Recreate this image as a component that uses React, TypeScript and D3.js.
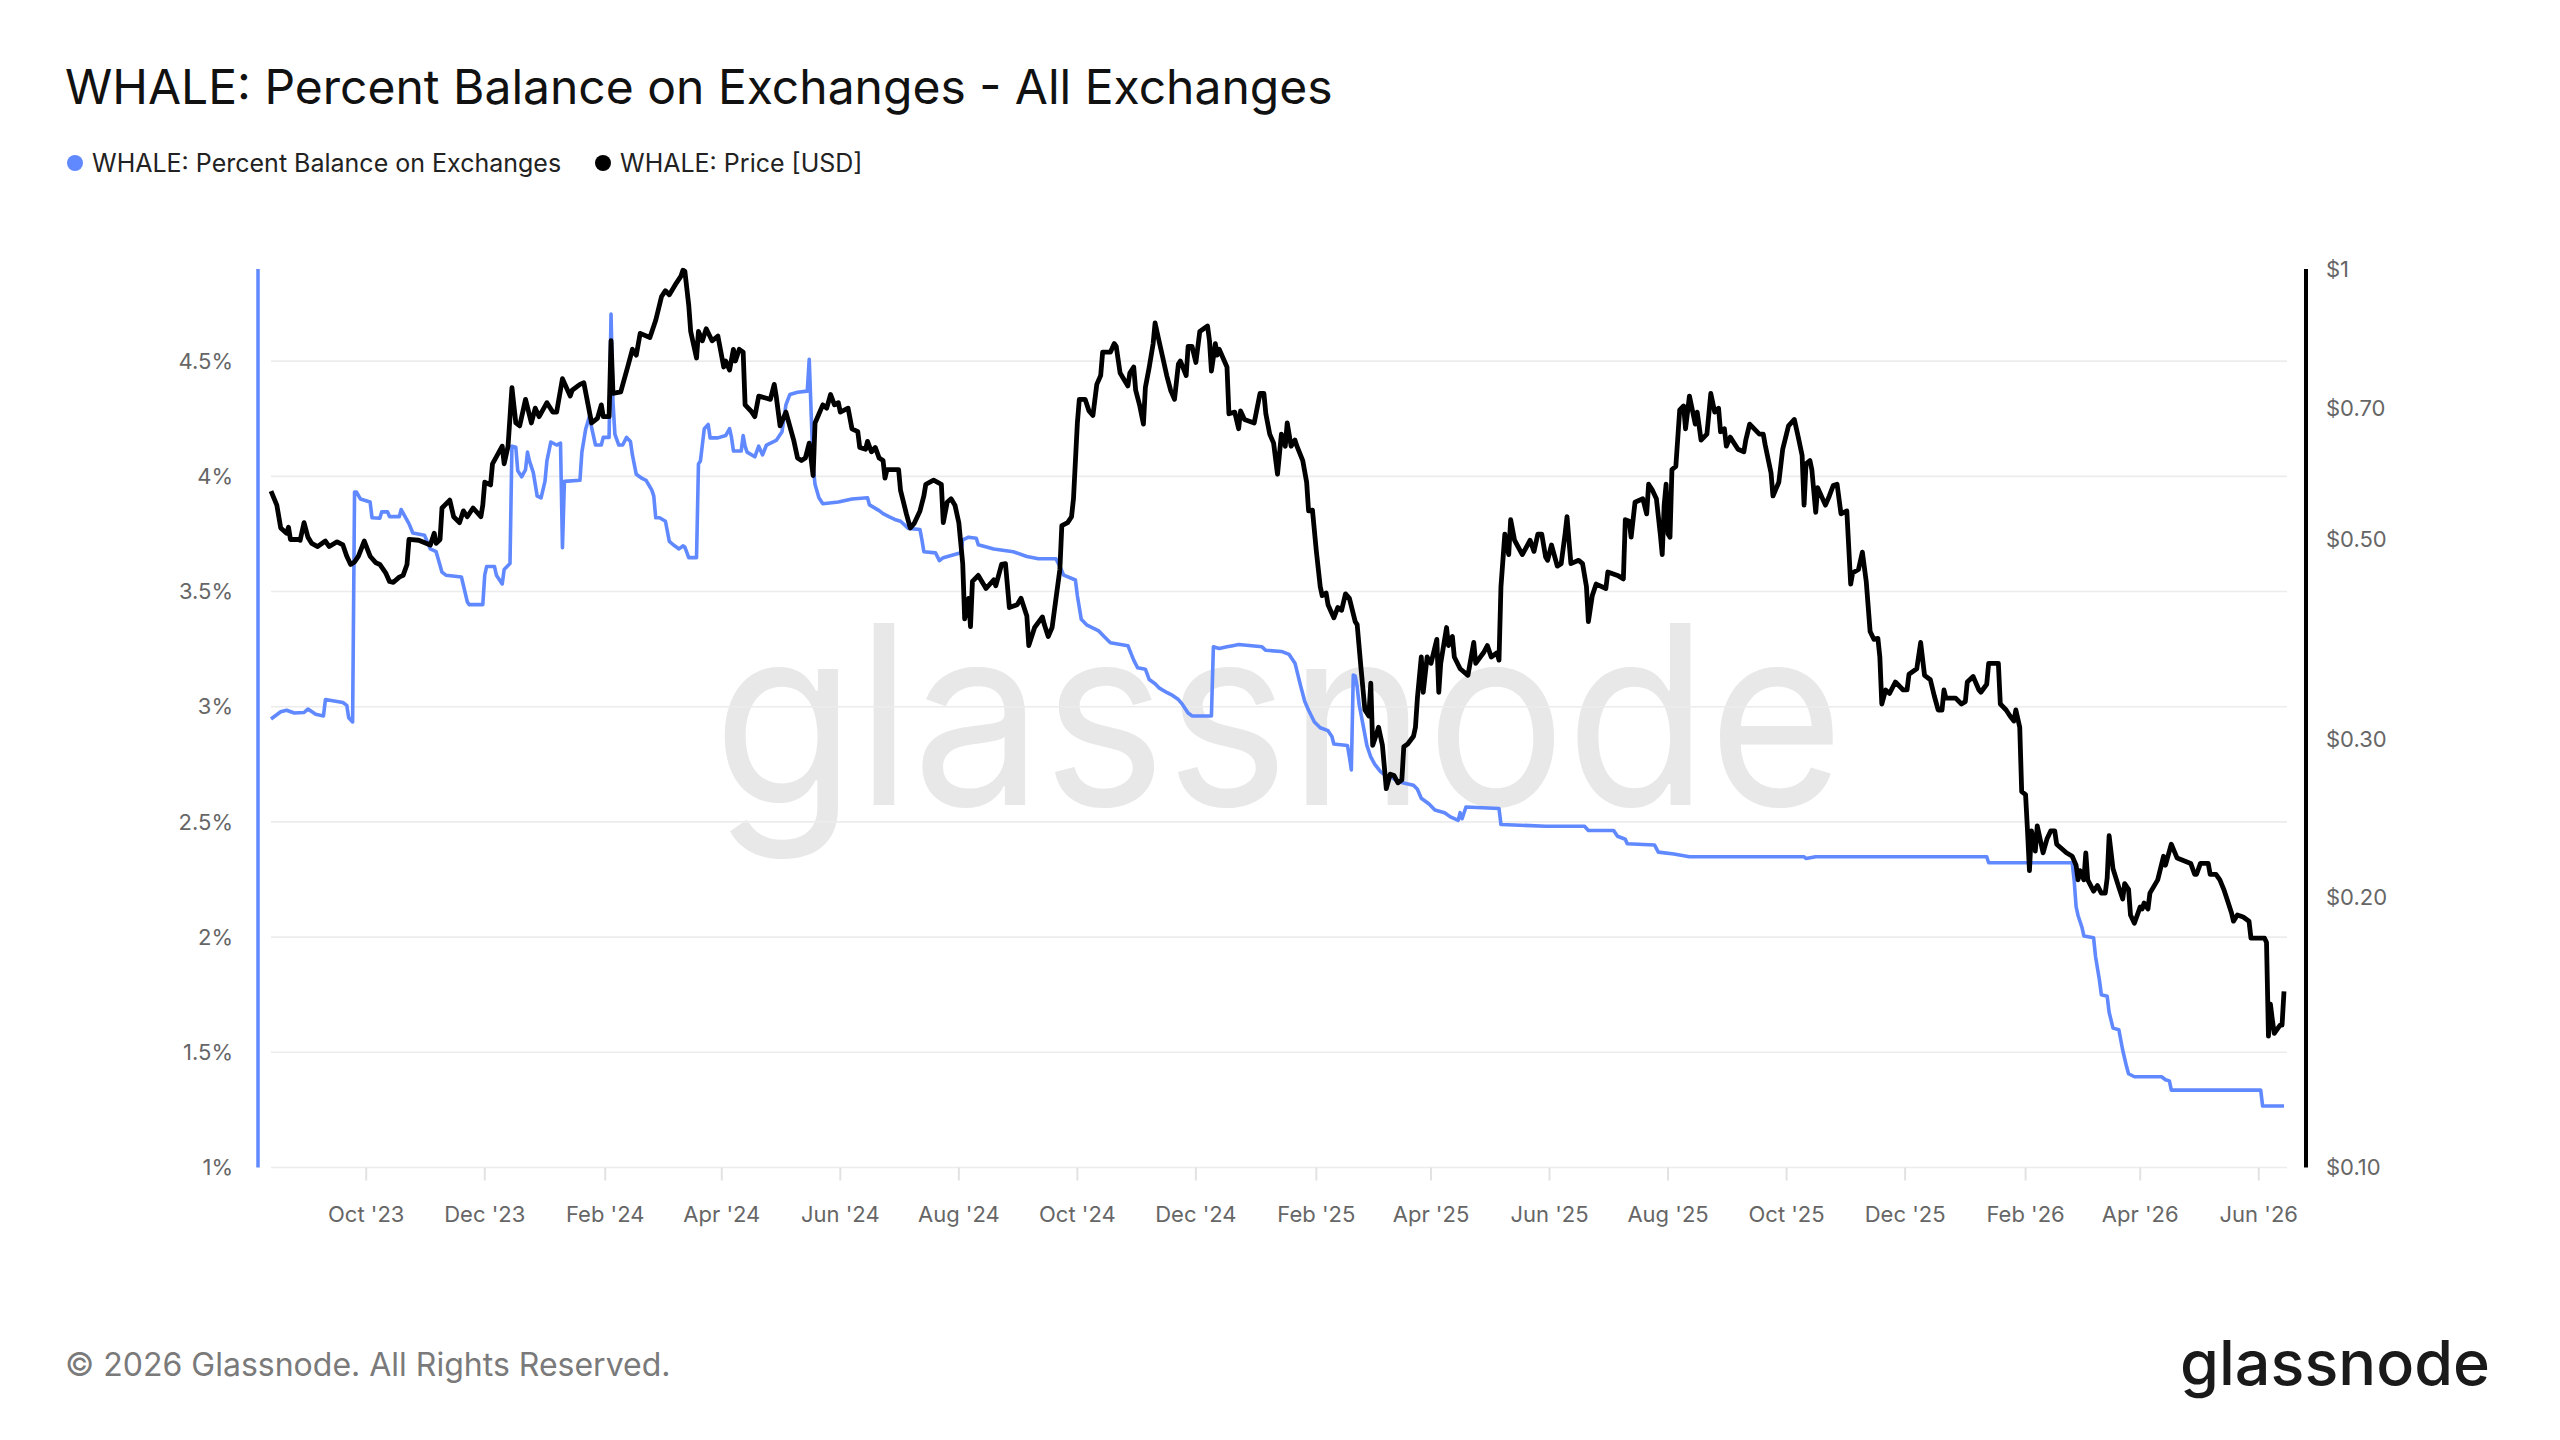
import React from 'react';
import * as d3 from 'd3';

// WHALE percent balance on exchanges (%)
const balanceSeries: [string, number][] = [
    ['2023-08-13', 2.947], ['2023-08-18', 2.978], ['2023-08-21', 2.985], ['2023-08-25', 2.973],
    ['2023-08-30', 2.975], ['2023-09-01', 2.990], ['2023-09-05', 2.967], ['2023-09-09', 2.960],
    ['2023-09-10', 3.031], ['2023-09-19', 3.018], ['2023-09-21', 3.006], ['2023-09-22', 2.952],
    ['2023-09-24', 2.934], ['2023-09-25', 3.932], ['2023-09-26', 3.932], ['2023-09-28', 3.902],
    ['2023-10-03', 3.889], ['2023-10-04', 3.820], ['2023-10-08', 3.818], ['2023-10-09', 3.846],
    ['2023-10-12', 3.846], ['2023-10-13', 3.825], ['2023-10-18', 3.825], ['2023-10-19', 3.856],
    ['2023-10-23', 3.795], ['2023-10-25', 3.754], ['2023-10-31', 3.744], ['2023-11-03', 3.685],
    ['2023-11-06', 3.673], ['2023-11-09', 3.584], ['2023-11-11', 3.571], ['2023-11-19', 3.563],
    ['2023-11-22', 3.456], ['2023-11-23', 3.443], ['2023-11-30', 3.443], ['2023-12-01', 3.571],
    ['2023-12-02', 3.609], ['2023-12-06', 3.609], ['2023-12-07', 3.571], ['2023-12-10', 3.533],
    ['2023-12-11', 3.596], ['2023-12-14', 3.622], ['2023-12-15', 4.131], ['2023-12-17', 4.126],
    ['2023-12-18', 4.024], ['2023-12-20', 3.998], ['2023-12-22', 4.029], ['2023-12-23', 4.105],
    ['2023-12-24', 4.067], ['2023-12-26', 4.016], ['2023-12-28', 3.914], ['2023-12-30', 3.907],
    ['2024-01-01', 3.978], ['2024-01-02', 4.067], ['2024-01-04', 4.149], ['2024-01-07', 4.136],
    ['2024-01-09', 4.144], ['2024-01-10', 3.690], ['2024-01-11', 3.978], ['2024-01-19', 3.983],
    ['2024-01-20', 4.105], ['2024-01-22', 4.207], ['2024-01-24', 4.263], ['2024-01-25', 4.212],
    ['2024-01-27', 4.136], ['2024-01-30', 4.136], ['2024-01-31', 4.169], ['2024-02-03', 4.169],
    ['2024-02-04', 4.704], ['2024-02-05', 4.322], ['2024-02-06', 4.182], ['2024-02-08', 4.136],
    ['2024-02-10', 4.136], ['2024-02-12', 4.169], ['2024-02-14', 4.151], ['2024-02-15', 4.093],
    ['2024-02-17', 4.009], ['2024-02-20', 3.991], ['2024-02-22', 3.983], ['2024-02-25', 3.940],
    ['2024-02-26', 3.914], ['2024-02-27', 3.820], ['2024-02-29', 3.820], ['2024-03-03', 3.805],
    ['2024-03-05', 3.718], ['2024-03-07', 3.703], ['2024-03-10', 3.685], ['2024-03-12', 3.698],
    ['2024-03-13', 3.693], ['2024-03-15', 3.647], ['2024-03-19', 3.647], ['2024-03-20', 4.054],
    ['2024-03-21', 4.067], ['2024-03-23', 4.207], ['2024-03-25', 4.225], ['2024-03-26', 4.167],
    ['2024-03-30', 4.167], ['2024-04-03', 4.177], ['2024-04-05', 4.207], ['2024-04-06', 4.169],
    ['2024-04-07', 4.110], ['2024-04-11', 4.110], ['2024-04-12', 4.177], ['2024-04-13', 4.131],
    ['2024-04-14', 4.105], ['2024-04-18', 4.085], ['2024-04-20', 4.131], ['2024-04-22', 4.093],
    ['2024-04-24', 4.136], ['2024-04-29', 4.156], ['2024-05-02', 4.194], ['2024-05-04', 4.310],
    ['2024-05-06', 4.355], ['2024-05-10', 4.365], ['2024-05-15', 4.370], ['2024-05-16', 4.508],
    ['2024-05-18', 4.042], ['2024-05-19', 3.965], ['2024-05-21', 3.907], ['2024-05-23', 3.881],
    ['2024-05-31', 3.889], ['2024-06-07', 3.902], ['2024-06-15', 3.907], ['2024-06-16', 3.876],
    ['2024-06-21', 3.851], ['2024-06-23', 3.838], ['2024-06-26', 3.825], ['2024-06-29', 3.813],
    ['2024-07-02', 3.805], ['2024-07-06', 3.774], ['2024-07-12', 3.769], ['2024-07-13', 3.724],
    ['2024-07-14', 3.673], ['2024-07-20', 3.668], ['2024-07-22', 3.634], ['2024-07-24', 3.647],
    ['2024-08-02', 3.668], ['2024-08-03', 3.724], ['2024-08-06', 3.736], ['2024-08-10', 3.731],
    ['2024-08-11', 3.703], ['2024-08-19', 3.685], ['2024-08-29', 3.673], ['2024-09-05', 3.652],
    ['2024-09-11', 3.642], ['2024-09-20', 3.642], ['2024-09-22', 3.609], ['2024-09-24', 3.571],
    ['2024-09-30', 3.550], ['2024-10-01', 3.482], ['2024-10-03', 3.380], ['2024-10-06', 3.354],
    ['2024-10-12', 3.329], ['2024-10-15', 3.303], ['2024-10-18', 3.278], ['2024-10-27', 3.265],
    ['2024-10-30', 3.202], ['2024-11-01', 3.169], ['2024-11-05', 3.163], ['2024-11-07', 3.118],
    ['2024-11-10', 3.100], ['2024-11-12', 3.082], ['2024-11-16', 3.062], ['2024-11-19', 3.049],
    ['2024-11-22', 3.031], ['2024-11-24', 3.011], ['2024-11-27', 2.973], ['2024-11-29', 2.960],
    ['2024-12-09', 2.960], ['2024-12-10', 3.260], ['2024-12-13', 3.253], ['2024-12-17', 3.260],
    ['2024-12-20', 3.265], ['2024-12-23', 3.270], ['2025-01-04', 3.260], ['2025-01-06', 3.245],
    ['2025-01-14', 3.240], ['2025-01-18', 3.227], ['2025-01-21', 3.189], ['2025-01-24', 3.087],
    ['2025-01-26', 3.024], ['2025-01-28', 2.985], ['2025-01-31', 2.934], ['2025-02-03', 2.909],
    ['2025-02-07', 2.896], ['2025-02-09', 2.871], ['2025-02-10', 2.838], ['2025-02-17', 2.832],
    ['2025-02-18', 2.782], ['2025-02-19', 2.726], ['2025-02-20', 3.138], ['2025-02-21', 3.133],
    ['2025-02-22', 3.087], ['2025-02-23', 3.011], ['2025-02-25', 2.922], ['2025-02-27', 2.832],
    ['2025-03-01', 2.782], ['2025-03-03', 2.751], ['2025-03-06', 2.718], ['2025-03-08', 2.705],
    ['2025-03-12', 2.692], ['2025-03-15', 2.675], ['2025-03-19', 2.667], ['2025-03-23', 2.659],
    ['2025-03-25', 2.642], ['2025-03-27', 2.603], ['2025-03-31', 2.578], ['2025-04-03', 2.552],
    ['2025-04-08', 2.540], ['2025-04-11', 2.522], ['2025-04-15', 2.507], ['2025-04-16', 2.540],
    ['2025-04-17', 2.514], ['2025-04-19', 2.565], ['2025-05-06', 2.558], ['2025-05-07', 2.489],
    ['2025-05-30', 2.481], ['2025-06-19', 2.481], ['2025-06-21', 2.463], ['2025-07-04', 2.463],
    ['2025-07-06', 2.438], ['2025-07-10', 2.425], ['2025-07-11', 2.405], ['2025-07-25', 2.400],
    ['2025-07-27', 2.369], ['2025-08-04', 2.361], ['2025-08-12', 2.349], ['2025-10-10', 2.349],
    ['2025-10-11', 2.341], ['2025-10-16', 2.349], ['2026-01-12', 2.349], ['2026-01-13', 2.323],
    ['2026-02-25', 2.323], ['2026-02-26', 2.247], ['2026-02-27', 2.132], ['2026-02-28', 2.094],
    ['2026-03-02', 2.043], ['2026-03-03', 2.005], ['2026-03-08', 1.997], ['2026-03-09', 1.916],
    ['2026-03-11', 1.814], ['2026-03-12', 1.750], ['2026-03-15', 1.743], ['2026-03-16', 1.674],
    ['2026-03-18', 1.605], ['2026-03-21', 1.598], ['2026-03-23', 1.509], ['2026-03-25', 1.437],
    ['2026-03-26', 1.407], ['2026-03-29', 1.394], ['2026-04-12', 1.394], ['2026-04-14', 1.381],
    ['2026-04-16', 1.376], ['2026-04-17', 1.336], ['2026-06-02', 1.336], ['2026-06-03', 1.267],
    ['2026-06-14', 1.267],
];

// WHALE price in USD
const priceSeries: [string, number][] = [
    ['2023-08-13', 0.566], ['2023-08-16', 0.546], ['2023-08-18', 0.515], ['2023-08-21', 0.508],
    ['2023-08-22', 0.516], ['2023-08-23', 0.500], ['2023-08-27', 0.500], ['2023-08-28', 0.499],
    ['2023-08-30', 0.522], ['2023-09-01', 0.503], ['2023-09-03', 0.495], ['2023-09-06', 0.491],
    ['2023-09-10', 0.498], ['2023-09-12', 0.491], ['2023-09-16', 0.497], ['2023-09-19', 0.493],
    ['2023-09-21', 0.479], ['2023-09-23', 0.469], ['2023-09-25', 0.472], ['2023-09-27', 0.479],
    ['2023-09-30', 0.498], ['2023-10-03', 0.479], ['2023-10-06', 0.471], ['2023-10-08', 0.469],
    ['2023-10-11', 0.459], ['2023-10-13', 0.449], ['2023-10-15', 0.448], ['2023-10-18', 0.454],
    ['2023-10-20', 0.456], ['2023-10-22', 0.469], ['2023-10-23', 0.500], ['2023-10-28', 0.499],
    ['2023-11-03', 0.493], ['2023-11-05', 0.508], ['2023-11-06', 0.495], ['2023-11-08', 0.500],
    ['2023-11-09', 0.542], ['2023-11-13', 0.553], ['2023-11-15', 0.530], ['2023-11-18', 0.522],
    ['2023-11-20', 0.538], ['2023-11-22', 0.530], ['2023-11-25', 0.542], ['2023-11-29', 0.530],
    ['2023-11-30', 0.546], ['2023-12-01', 0.579], ['2023-12-04', 0.575], ['2023-12-05', 0.607],
    ['2023-12-10', 0.635], ['2023-12-11', 0.607], ['2023-12-13', 0.635], ['2023-12-15', 0.738],
    ['2023-12-17', 0.674], ['2023-12-19', 0.669], ['2023-12-22', 0.716], ['2023-12-25', 0.674],
    ['2023-12-27', 0.700], ['2023-12-29', 0.685], ['2024-01-02', 0.710], ['2024-01-05', 0.693],
    ['2024-01-07', 0.693], ['2024-01-10', 0.755], ['2024-01-14', 0.722], ['2024-01-15', 0.733],
    ['2024-01-19', 0.744], ['2024-01-21', 0.747], ['2024-01-25', 0.674], ['2024-01-28', 0.682],
    ['2024-01-30', 0.706], ['2024-01-31', 0.685], ['2024-02-03', 0.685], ['2024-02-04', 0.832],
    ['2024-02-05', 0.727], ['2024-02-09', 0.730], ['2024-02-13', 0.784], ['2024-02-15', 0.814],
    ['2024-02-17', 0.802], ['2024-02-19', 0.848], ['2024-02-24', 0.839], ['2024-02-27', 0.877],
    ['2024-03-01', 0.932], ['2024-03-03', 0.946], ['2024-03-05', 0.936], ['2024-03-08', 0.960],
    ['2024-03-11', 0.982], ['2024-03-12', 0.997], ['2024-03-13', 0.994], ['2024-03-15', 0.911],
    ['2024-03-16', 0.852], ['2024-03-19', 0.796], ['2024-03-20', 0.852], ['2024-03-22', 0.832],
    ['2024-03-24', 0.858], ['2024-03-27', 0.832], ['2024-03-30', 0.842], ['2024-04-02', 0.778],
    ['2024-04-03', 0.790], ['2024-04-05', 0.772], ['2024-04-07', 0.814], ['2024-04-08', 0.790],
    ['2024-04-10', 0.814], ['2024-04-12', 0.808], ['2024-04-13', 0.706], ['2024-04-16', 0.695],
    ['2024-04-18', 0.685], ['2024-04-20', 0.722], ['2024-04-24', 0.718], ['2024-04-26', 0.716],
    ['2024-04-28', 0.744], ['2024-04-29', 0.722], ['2024-05-01', 0.669], ['2024-05-04', 0.693],
    ['2024-05-08', 0.645], ['2024-05-10', 0.616], ['2024-05-12', 0.612], ['2024-05-14', 0.616],
    ['2024-05-16', 0.640], ['2024-05-18', 0.589], ['2024-05-19', 0.674], ['2024-05-23', 0.706],
    ['2024-05-25', 0.700], ['2024-05-27', 0.725], ['2024-05-29', 0.706], ['2024-05-31', 0.710],
    ['2024-06-01', 0.693], ['2024-06-05', 0.700], ['2024-06-07', 0.664], ['2024-06-10', 0.659],
    ['2024-06-11', 0.633], ['2024-06-14', 0.630], ['2024-06-15', 0.643], ['2024-06-17', 0.626],
    ['2024-06-19', 0.633], ['2024-06-21', 0.616], ['2024-06-23', 0.612], ['2024-06-24', 0.585],
    ['2024-06-25', 0.598], ['2024-07-01', 0.598], ['2024-07-02', 0.567], ['2024-07-05', 0.534],
    ['2024-07-07', 0.515], ['2024-07-09', 0.521], ['2024-07-12', 0.538], ['2024-07-14', 0.559],
    ['2024-07-15', 0.576], ['2024-07-19', 0.582], ['2024-07-23', 0.576], ['2024-07-24', 0.522],
    ['2024-07-26', 0.550], ['2024-07-28', 0.555], ['2024-07-30', 0.546], ['2024-08-01', 0.522],
    ['2024-08-03', 0.470], ['2024-08-04', 0.408], ['2024-08-06', 0.430], ['2024-08-07', 0.400],
    ['2024-08-08', 0.449], ['2024-08-11', 0.456], ['2024-08-15', 0.441], ['2024-08-19', 0.451],
    ['2024-08-20', 0.444], ['2024-08-23', 0.469], ['2024-08-25', 0.470], ['2024-08-27', 0.420],
    ['2024-08-31', 0.423], ['2024-09-02', 0.430], ['2024-09-05', 0.411], ['2024-09-06', 0.381],
    ['2024-09-09', 0.399], ['2024-09-13', 0.410], ['2024-09-14', 0.402], ['2024-09-16', 0.390],
    ['2024-09-18', 0.399], ['2024-09-20', 0.430], ['2024-09-22', 0.463], ['2024-09-23', 0.518],
    ['2024-09-26', 0.522], ['2024-09-28', 0.530], ['2024-09-29', 0.555], ['2024-10-01', 0.674],
    ['2024-10-02', 0.716], ['2024-10-05', 0.716], ['2024-10-07', 0.695], ['2024-10-09', 0.687],
    ['2024-10-11', 0.744], ['2024-10-13', 0.761], ['2024-10-14', 0.808], ['2024-10-18', 0.808],
    ['2024-10-20', 0.826], ['2024-10-21', 0.820], ['2024-10-23', 0.766], ['2024-10-27', 0.741],
    ['2024-10-28', 0.766], ['2024-10-30', 0.778], ['2024-10-31', 0.733], ['2024-11-02', 0.706],
    ['2024-11-04', 0.672], ['2024-11-05', 0.738], ['2024-11-07', 0.778], ['2024-11-09', 0.826],
    ['2024-11-10', 0.871], ['2024-11-12', 0.832], ['2024-11-14', 0.796], ['2024-11-16', 0.761],
    ['2024-11-18', 0.733], ['2024-11-20', 0.716], ['2024-11-22', 0.784], ['2024-11-23', 0.790],
    ['2024-11-26', 0.761], ['2024-11-27', 0.820], ['2024-11-29', 0.820], ['2024-12-01', 0.787],
    ['2024-12-03', 0.852], ['2024-12-07', 0.864], ['2024-12-08', 0.832], ['2024-12-09', 0.770],
    ['2024-12-11', 0.826], ['2024-12-12', 0.802], ['2024-12-13', 0.814], ['2024-12-17', 0.778],
    ['2024-12-18', 0.690], ['2024-12-21', 0.693], ['2024-12-23', 0.664], ['2024-12-24', 0.695],
    ['2024-12-26', 0.680], ['2024-12-31', 0.674], ['2025-01-03', 0.727], ['2025-01-05', 0.727],
    ['2025-01-06', 0.690], ['2025-01-08', 0.655], ['2025-01-10', 0.640], ['2025-01-12', 0.591],
    ['2025-01-14', 0.655], ['2025-01-16', 0.635], ['2025-01-17', 0.674], ['2025-01-19', 0.635],
    ['2025-01-21', 0.645], ['2025-01-22', 0.635], ['2025-01-25', 0.612], ['2025-01-27', 0.579],
    ['2025-01-28', 0.538], ['2025-01-30', 0.539], ['2025-02-01', 0.485], ['2025-02-03', 0.443],
    ['2025-02-04', 0.433], ['2025-02-06', 0.436], ['2025-02-07', 0.423], ['2025-02-10', 0.409],
    ['2025-02-12', 0.420], ['2025-02-14', 0.417], ['2025-02-16', 0.435], ['2025-02-18', 0.430],
    ['2025-02-21', 0.405], ['2025-02-22', 0.402], ['2025-02-24', 0.359], ['2025-02-26', 0.323],
    ['2025-02-28', 0.318], ['2025-03-01', 0.346], ['2025-03-02', 0.295], ['2025-03-04', 0.304],
    ['2025-03-05', 0.309], ['2025-03-07', 0.295], ['2025-03-09', 0.264], ['2025-03-11', 0.274],
    ['2025-03-13', 0.273], ['2025-03-15', 0.268], ['2025-03-17', 0.270], ['2025-03-18', 0.294],
    ['2025-03-20', 0.296], ['2025-03-23', 0.302], ['2025-03-24', 0.309], ['2025-03-25', 0.333],
    ['2025-03-27', 0.370], ['2025-03-28', 0.338], ['2025-03-30', 0.370], ['2025-04-01', 0.364],
    ['2025-04-04', 0.387], ['2025-04-05', 0.338], ['2025-04-06', 0.364], ['2025-04-09', 0.399],
    ['2025-04-10', 0.381], ['2025-04-12', 0.390], ['2025-04-13', 0.370], ['2025-04-16', 0.359],
    ['2025-04-20', 0.353], ['2025-04-23', 0.384], ['2025-04-24', 0.364], ['2025-04-28', 0.374],
    ['2025-04-30', 0.381], ['2025-05-02', 0.370], ['2025-05-05', 0.374], ['2025-05-06', 0.367],
    ['2025-05-07', 0.443], ['2025-05-09', 0.507], ['2025-05-11', 0.481], ['2025-05-12', 0.526],
    ['2025-05-14', 0.499], ['2025-05-18', 0.481], ['2025-05-22', 0.499], ['2025-05-24', 0.485],
    ['2025-05-26', 0.507], ['2025-05-28', 0.507], ['2025-05-30', 0.478], ['2025-05-31', 0.474],
    ['2025-06-02', 0.493], ['2025-06-05', 0.467], ['2025-06-07', 0.470], ['2025-06-09', 0.507],
    ['2025-06-10', 0.530], ['2025-06-12', 0.470], ['2025-06-16', 0.474], ['2025-06-18', 0.470],
    ['2025-06-20', 0.443], ['2025-06-21', 0.405], ['2025-06-23', 0.433], ['2025-06-25', 0.446],
    ['2025-06-30', 0.441], ['2025-07-01', 0.460], ['2025-07-06', 0.456], ['2025-07-09', 0.452],
    ['2025-07-10', 0.526], ['2025-07-12', 0.524], ['2025-07-13', 0.503], ['2025-07-15', 0.550],
    ['2025-07-19', 0.555], ['2025-07-21', 0.534], ['2025-07-22', 0.576], ['2025-07-24', 0.567],
    ['2025-07-26', 0.555], ['2025-07-28', 0.507], ['2025-07-29', 0.481], ['2025-07-30', 0.546],
    ['2025-07-31', 0.576], ['2025-08-01', 0.507], ['2025-08-02', 0.503], ['2025-08-03', 0.598],
    ['2025-08-05', 0.603], ['2025-08-07', 0.697], ['2025-08-09', 0.704], ['2025-08-10', 0.664],
    ['2025-08-12', 0.722], ['2025-08-15', 0.672], ['2025-08-16', 0.693], ['2025-08-18', 0.645],
    ['2025-08-21', 0.655], ['2025-08-23', 0.727], ['2025-08-25', 0.693], ['2025-08-27', 0.700],
    ['2025-08-28', 0.659], ['2025-08-30', 0.664], ['2025-08-31', 0.635], ['2025-09-02', 0.650],
    ['2025-09-06', 0.630], ['2025-09-09', 0.626], ['2025-09-10', 0.645], ['2025-09-12', 0.672],
    ['2025-09-17', 0.655], ['2025-09-19', 0.655], ['2025-09-20', 0.637], ['2025-09-23', 0.593],
    ['2025-09-24', 0.559], ['2025-09-27', 0.579], ['2025-09-29', 0.630], ['2025-10-02', 0.669],
    ['2025-10-05', 0.680], ['2025-10-07', 0.650], ['2025-10-09', 0.620], ['2025-10-10', 0.546],
    ['2025-10-11', 0.607], ['2025-10-13', 0.612], ['2025-10-14', 0.598], ['2025-10-16', 0.536],
    ['2025-10-17', 0.571], ['2025-10-21', 0.546], ['2025-10-23', 0.559], ['2025-10-25', 0.574],
    ['2025-10-27', 0.576], ['2025-10-29', 0.534], ['2025-11-01', 0.538], ['2025-11-03', 0.446],
    ['2025-11-04', 0.459], ['2025-11-07', 0.463], ['2025-11-09', 0.484], ['2025-11-11', 0.449],
    ['2025-11-13', 0.395], ['2025-11-15', 0.387], ['2025-11-17', 0.388], ['2025-11-18', 0.370],
    ['2025-11-19', 0.328], ['2025-11-21', 0.340], ['2025-11-23', 0.337], ['2025-11-26', 0.347],
    ['2025-11-30', 0.340], ['2025-12-02', 0.340], ['2025-12-03', 0.354], ['2025-12-07', 0.359],
    ['2025-12-09', 0.384], ['2025-12-11', 0.353], ['2025-12-14', 0.349], ['2025-12-16', 0.335],
    ['2025-12-18', 0.323], ['2025-12-20', 0.323], ['2025-12-21', 0.340], ['2025-12-22', 0.333],
    ['2025-12-27', 0.333], ['2025-12-30', 0.328], ['2026-01-01', 0.330], ['2026-01-02', 0.347],
    ['2026-01-05', 0.352], ['2026-01-08', 0.340], ['2026-01-09', 0.338], ['2026-01-12', 0.345],
    ['2026-01-13', 0.364], ['2026-01-18', 0.364], ['2026-01-19', 0.328], ['2026-01-22', 0.323],
    ['2026-01-24', 0.318], ['2026-01-26', 0.314], ['2026-01-27', 0.323], ['2026-01-29', 0.309],
    ['2026-01-30', 0.262], ['2026-02-01', 0.260], ['2026-02-02', 0.237], ['2026-02-03', 0.214],
    ['2026-02-04', 0.237], ['2026-02-06', 0.225], ['2026-02-07', 0.240], ['2026-02-10', 0.224],
    ['2026-02-12', 0.232], ['2026-02-14', 0.237], ['2026-02-16', 0.237], ['2026-02-17', 0.229],
    ['2026-02-22', 0.224], ['2026-02-25', 0.222], ['2026-02-27', 0.217], ['2026-02-28', 0.209],
    ['2026-03-01', 0.214], ['2026-03-03', 0.209], ['2026-03-04', 0.224], ['2026-03-05', 0.209],
    ['2026-03-08', 0.203], ['2026-03-10', 0.206], ['2026-03-12', 0.202], ['2026-03-14', 0.202],
    ['2026-03-15', 0.210], ['2026-03-16', 0.234], ['2026-03-18', 0.215], ['2026-03-21', 0.205],
    ['2026-03-23', 0.199], ['2026-03-24', 0.207], ['2026-03-26', 0.204], ['2026-03-27', 0.191],
    ['2026-03-29', 0.187], ['2026-04-01', 0.195], ['2026-04-02', 0.194], ['2026-04-03', 0.197],
    ['2026-04-05', 0.194], ['2026-04-06', 0.202], ['2026-04-10', 0.209], ['2026-04-13', 0.222],
    ['2026-04-14', 0.217], ['2026-04-17', 0.229], ['2026-04-20', 0.221], ['2026-04-27', 0.218],
    ['2026-04-29', 0.212], ['2026-04-30', 0.212], ['2026-05-02', 0.218], ['2026-05-06', 0.218],
    ['2026-05-07', 0.212], ['2026-05-10', 0.212], ['2026-05-12', 0.209], ['2026-05-14', 0.204],
    ['2026-05-16', 0.198], ['2026-05-18', 0.192], ['2026-05-19', 0.188], ['2026-05-21', 0.191],
    ['2026-05-24', 0.190], ['2026-05-27', 0.188], ['2026-05-28', 0.180], ['2026-06-04', 0.180],
    ['2026-06-05', 0.178], ['2026-06-06', 0.140], ['2026-06-07', 0.152], ['2026-06-08', 0.146],
    ['2026-06-09', 0.141], ['2026-06-12', 0.144], ['2026-06-13', 0.144], ['2026-06-14', 0.157],
];

const percentTicks = [1, 1.5, 2, 2.5, 3, 3.5, 4, 4.5];
const priceTicks = [0.1, 0.2, 0.3, 0.5, 0.7, 1];
const monthTicks = [
    '2023-10-01', '2023-12-01', '2024-02-01', '2024-04-01', '2024-06-01', '2024-08-01',
    '2024-10-01', '2024-12-01', '2025-02-01', '2025-04-01', '2025-06-01', '2025-08-01',
    '2025-10-01', '2025-12-01', '2026-02-01', '2026-04-01', '2026-06-01',
];

const WIDTH = 2560;
const HEIGHT = 1440;
const BLUE = '#6088ff';
const FONT = "Inter, 'Noto Sans', 'DejaVu Sans', sans-serif";

const App: React.FC = () => {
    const parse = d3.utcParse('%Y-%m-%d');
    const balance = balanceSeries.map(([d, v]) => ({date: parse(d)!, value: v}));
    const price = priceSeries.map(([d, v]) => ({date: parse(d)!, value: v}));

    // plot box
    const left = 271, right = 2284, top = 269, bottom = 1167.5;

    const x = d3.scaleUtc()
        .domain(d3.extent([...balance, ...price], d => d.date) as [Date, Date])
        .range([left, right]);
    const yLeft = d3.scaleLinear().domain([1, 4.9]).range([bottom, top]);
    const yRight = d3.scaleLog().domain([0.1, 1]).range([bottom, top]);

    const balanceLine = d3.line<{date: Date, value: number}>()
        .x(d => x(d.date))
        .y(d => yLeft(d.value));
    const priceLine = d3.line<{date: Date, value: number}>()
        .x(d => x(d.date))
        .y(d => yRight(d.value));

    const fmtMonth = d3.utcFormat("%b '%y");
    const fmtPrice = (v: number) => (v === 1 ? '$1' : d3.format('$.2f')(v));

    return (
        <div style={{position: 'absolute', left: 0, top: 0}}>
            <svg width={WIDTH} height={HEIGHT} style={{display: 'block', background: '#fff'}} fontFamily={FONT}>
                {/* title + legend */}
                <text x={65} y={104} fontSize={48} fill="#111">
                    WHALE: Percent Balance on Exchanges - All Exchanges
                </text>
                <circle cx={75} cy={163} r={8} fill={BLUE}/>
                <text x={92} y={172} fontSize={25} fill="#222">WHALE: Percent Balance on Exchanges</text>
                <circle cx={603} cy={163} r={8} fill="#000"/>
                <text x={620} y={172} fontSize={25} fill="#222">WHALE: Price [USD]</text>

                {/* watermark */}
                <text x={713} y={805} fontSize={250} fill="#e8e8e8" textLength={1131}
                      lengthAdjust="spacingAndGlyphs">glassnode</text>

                {/* grid */}
                {percentTicks.map(t => (
                    <line key={t} x1={left} x2={right + 3} y1={yLeft(t)} y2={yLeft(t)}
                          stroke="#ececec" strokeWidth={1.6}/>
                ))}

                {/* left axis */}
                <line x1={258} x2={258} y1={top} y2={bottom} stroke={BLUE} strokeWidth={3.5}/>
                {percentTicks.map(t => (
                    <text key={t} x={233} y={yLeft(t)} dy="0.35em" textAnchor="end" fontSize={22} fill="#666">
                        {`${t}%`}
                    </text>
                ))}

                {/* right axis */}
                <line x1={2306} x2={2306} y1={top} y2={bottom} stroke="#000" strokeWidth={4}/>
                {priceTicks.map(t => (
                    <text key={t} x={2326} y={yRight(t)} dy="0.35em" fontSize={22} fill="#666">
                        {fmtPrice(t)}
                    </text>
                ))}

                {/* x axis */}
                {monthTicks.map(m => {
                    const d = parse(m)!;
                    return (
                        <g key={m} transform={`translate(${x(d)},0)`}>
                            <line y1={bottom} y2={bottom + 13} stroke="#e2e2e2" strokeWidth={2}/>
                            <text y={bottom + 54} textAnchor="middle" fontSize={22} fill="#666">{fmtMonth(d)}</text>
                        </g>
                    );
                })}

                {/* series */}
                <path d={balanceLine(balance)!} fill="none" stroke={BLUE} strokeWidth={3.6}
                      strokeLinejoin="round"/>
                <path d={priceLine(price)!} fill="none" stroke="#000" strokeWidth={4.8}
                      strokeLinejoin="round"/>

                {/* footer */}
                <text x={65} y={1376} fontSize={32} fill="#7a7a7a">© 2026 Glassnode. All Rights Reserved.</text>
                <text x={2180} y={1385} fontSize={62} fontWeight={500} fill="#1a1a1a" textLength={310}
                      lengthAdjust="spacingAndGlyphs">glassnode</text>
            </svg>
        </div>
    );
};

export default App;
